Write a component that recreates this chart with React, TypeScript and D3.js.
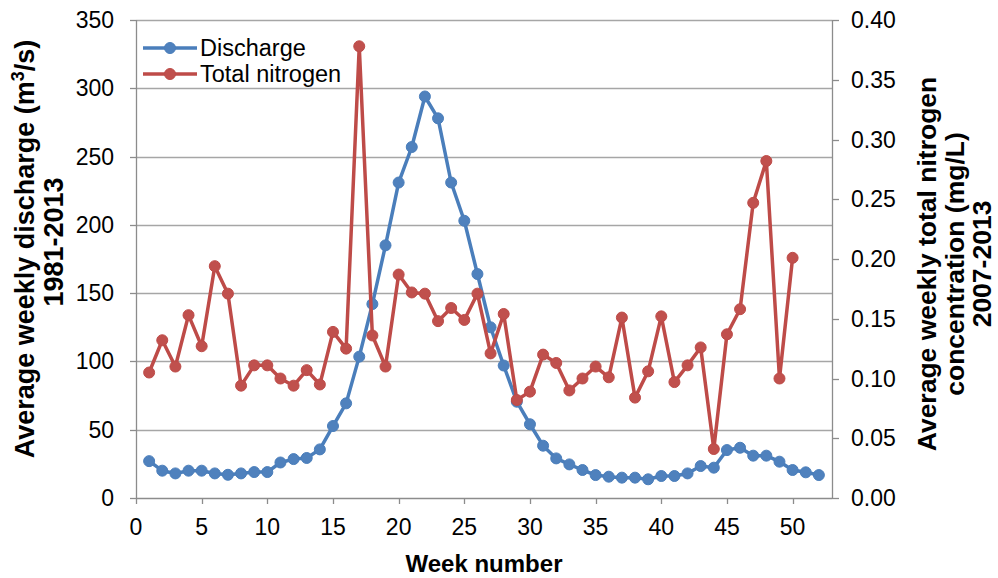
import React, { useEffect, useRef } from "react";
import * as d3 from "d3";

const weeks = [1,2,3,4,5,6,7,8,9,10,11,12,13,14,15,16,17,18,19,20,21,22,23,24,25,26,27,28,29,30,31,32,33,34,35,36,37,38,39,40,41,42,43,44,45,46,47,48,49,50,51,52];
const discharge = [27, 20, 18, 20, 20, 18, 17, 18, 19, 19, 26, 28.5, 29.3, 35.6, 52.7, 69.3, 103.5, 142, 185, 231, 257, 294, 278, 231, 203, 164, 125, 97, 70.5, 54, 38.3, 29, 24.6, 20.5, 16.8, 15.6, 14.9, 14.9, 13.7, 16.1, 16.1, 18, 23.4, 22.2, 35.1, 36.8, 31, 31, 26.6, 20.5, 18.8, 16.8];
const nitrogen = [0.105, 0.132, 0.110, 0.153, 0.127, 0.194, 0.171, 0.094, 0.111, 0.111, 0.100, 0.094, 0.107, 0.095, 0.139, 0.125, 0.378, 0.136, 0.110, 0.187, 0.172, 0.171, 0.148, 0.159, 0.149, 0.171, 0.121, 0.154, 0.082, 0.089, 0.120, 0.113, 0.090, 0.100, 0.110, 0.101, 0.151, 0.084, 0.106, 0.152, 0.097, 0.111, 0.126, 0.041, 0.137, 0.158, 0.247, 0.282, 0.100, 0.201];
const xTicks = [0, 5, 10, 15, 20, 25, 30, 35, 40, 45, 50];
const leftTicks = [0, 50, 100, 150, 200, 250, 300, 350];
const rightTicks = [0, 0.05, 0.1, 0.15, 0.2, 0.25, 0.3, 0.35, 0.4];
const seriesNames = ["Discharge", "Total nitrogen"];

const W = 998, H = 578;
const M = { left: 136, right: 166, top: 20, bottom: 80 };
const BLUE_LINE = "#4A7EBB", BLUE_FILL = "#4F81BD";
const RED_LINE = "#BE4B48", RED_FILL = "#C0504D";
const FONT = "'Liberation Sans', Arial, sans-serif";

export default function App() {
  const ref = useRef<SVGSVGElement>(null);
  useEffect(() => {
    const svg = d3.select(ref.current);
    svg.selectAll("*").remove();
    const x = d3.scaleLinear().domain([0, 53]).range([M.left, W - M.right]);
    const yL = d3.scaleLinear().domain([0, 350]).range([H - M.bottom, M.top]);
    const yR = d3.scaleLinear().domain([0, 0.4]).range([H - M.bottom, M.top]);
    const x0 = M.left, x1 = W - M.right, yb = H - M.bottom;

    // gridlines
    svg.append("g").selectAll("line").data(leftTicks.filter(t => t > 0)).join("line")
      .attr("x1", x0).attr("x2", x1)
      .attr("y1", d => Math.round(yL(d)) + 0.5).attr("y2", d => Math.round(yL(d)) + 0.5)
      .attr("stroke", "#A6A6A6").attr("stroke-width", 1.3);

    const axisColor = "#8C8C8C";
    // left axis
    const gl = svg.append("g");
    gl.append("line").attr("x1", x0 + 0.5).attr("x2", x0 + 0.5).attr("y1", M.top).attr("y2", yb).attr("stroke", axisColor).attr("stroke-width", 1.3);
    gl.selectAll("line.t").data(leftTicks).join("line").attr("class", "t")
      .attr("x1", x0 - 6).attr("x2", x0).attr("y1", d => Math.round(yL(d)) + 0.5).attr("y2", d => Math.round(yL(d)) + 0.5)
      .attr("stroke", axisColor).attr("stroke-width", 1.3);
    gl.selectAll("text").data(leftTicks).join("text")
      .attr("x", x0 - 22).attr("y", d => yL(d)).attr("dy", "0.35em")
      .attr("text-anchor", "end").attr("font-size", 23).attr("font-family", FONT).attr("fill", "#000")
      .text(d => String(d));

    // right axis
    const gr = svg.append("g");
    gr.append("line").attr("x1", x1 + 0.5).attr("x2", x1 + 0.5).attr("y1", M.top).attr("y2", yb).attr("stroke", axisColor).attr("stroke-width", 1.3);
    gr.selectAll("line.t").data(rightTicks).join("line").attr("class", "t")
      .attr("x1", x1).attr("x2", x1 + 7).attr("y1", d => Math.round(yR(d)) + 0.5).attr("y2", d => Math.round(yR(d)) + 0.5)
      .attr("stroke", axisColor).attr("stroke-width", 1.3);
    gr.selectAll("text").data(rightTicks).join("text")
      .attr("x", x1 + 19).attr("y", d => yR(d)).attr("dy", "0.35em")
      .attr("text-anchor", "start").attr("font-size", 23).attr("font-family", FONT).attr("fill", "#000")
      .text(d => d3.format(".2f")(d));

    // bottom axis
    const gb = svg.append("g");
    gb.append("line").attr("x1", x0).attr("x2", x1).attr("y1", yb + 0.5).attr("y2", yb + 0.5).attr("stroke", axisColor).attr("stroke-width", 1.3);
    gb.selectAll("line.t").data(xTicks).join("line").attr("class", "t")
      .attr("x1", d => Math.round(x(d)) + 0.5).attr("x2", d => Math.round(x(d)) + 0.5).attr("y1", yb).attr("y2", yb + 6)
      .attr("stroke", axisColor).attr("stroke-width", 1.3);
    gb.selectAll("text").data(xTicks).join("text")
      .attr("x", d => x(d)).attr("y", 535)
      .attr("text-anchor", "middle").attr("font-size", 23).attr("font-family", FONT).attr("fill", "#000")
      .text(d => String(d));

    // series
    const curve = d3.curveLinear;
    const dData = weeks.map((w, i) => [w, discharge[i]] as [number, number]);
    const nData = nitrogen.map((v, i) => [weeks[i], v] as [number, number]);
    const lineL = d3.line<[number, number]>().x(d => x(d[0])).y(d => yL(d[1])).curve(curve);
    const lineR = d3.line<[number, number]>().x(d => x(d[0])).y(d => yR(d[1])).curve(curve);

    svg.append("path").attr("d", lineL(dData)).attr("fill", "none").attr("stroke", BLUE_LINE).attr("stroke-width", 3.5).attr("stroke-linejoin", "round");
    svg.append("g").selectAll("circle").data(dData).join("circle")
      .attr("cx", d => x(d[0])).attr("cy", d => yL(d[1])).attr("r", 5.5).attr("fill", BLUE_FILL).attr("stroke", BLUE_LINE).attr("stroke-width", 1);

    svg.append("path").attr("d", lineR(nData)).attr("fill", "none").attr("stroke", RED_LINE).attr("stroke-width", 3.5).attr("stroke-linejoin", "round");
    svg.append("g").selectAll("circle").data(nData).join("circle")
      .attr("cx", d => x(d[0])).attr("cy", d => yR(d[1])).attr("r", 5.5).attr("fill", RED_FILL).attr("stroke", RED_LINE).attr("stroke-width", 1);

    // legend
    const lg = svg.append("g");
    const legendRows = [
      { name: seriesNames[0], line: BLUE_LINE, fill: BLUE_FILL, y: 48 },
      { name: seriesNames[1], line: RED_LINE, fill: RED_FILL, y: 74 },
    ];
    legendRows.forEach(r => {
      lg.append("line").attr("x1", 143).attr("x2", 197).attr("y1", r.y).attr("y2", r.y).attr("stroke", r.line).attr("stroke-width", 3.5);
      lg.append("circle").attr("cx", 170).attr("cy", r.y).attr("r", 5.5).attr("fill", r.fill).attr("stroke", r.line);
      lg.append("text").attr("x", 200).attr("y", r.y).attr("dy", "0.35em").attr("font-size", 23.5).attr("font-family", FONT).attr("fill", "#000").text(r.name);
    });

    // axis titles
    const tStyle = (s: any, size: number) => s.attr("font-size", size).attr("font-weight", "bold").attr("font-family", FONT).attr("fill", "#000").attr("text-anchor", "middle");
    svg.append("text").call(tStyle, 24).attr("x", (x0 + x1) / 2).attr("y", 572).text("Week number");

    const lt1 = svg.append("text").call(tStyle, 27).attr("transform", "translate(25,249) rotate(-90)").attr("dy", "0.35em");
    lt1.append("tspan").text("Average weekly discharge (m");
    lt1.append("tspan").attr("baseline-shift", "super").attr("font-size", 18).text("3");
    lt1.append("tspan").text("/s)");
    svg.append("text").call(tStyle, 27).attr("transform", "translate(54,242) rotate(-90)").attr("dy", "0.35em").text("1981-2013");

    const rLines = ["Average weekly total nitrogen", "concentration (mg/L)", "2007-2013"];
    const rX = [927, 955, 982];
    rLines.forEach((t, i) => {
      svg.append("text").call(tStyle, 26.5).attr("transform", `translate(${rX[i]},264) rotate(-90)`).attr("dy", "0.35em").text(t);
    });
  }, []);
  return (
    <svg ref={ref} width={W} height={H} style={{ position: "absolute", left: 0, top: 0, background: "#fff" }} />
  );
}
